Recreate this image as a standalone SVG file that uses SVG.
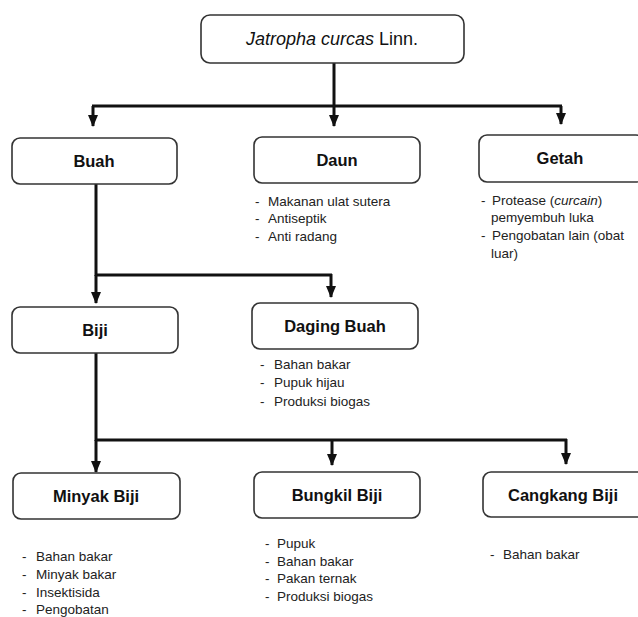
<svg xmlns="http://www.w3.org/2000/svg" width="638" height="617" viewBox="0 0 638 617">
<defs>
<marker id="ah" viewBox="0 0 12 10" refX="11" refY="5" markerWidth="12" markerHeight="10" markerUnits="userSpaceOnUse" orient="auto">
<path d="M0,0 L12,5 L0,10 Z" fill="#111"/>
</marker>
</defs>
<style>
.box{fill:#fff;stroke:#333;stroke-width:1.6}
.lbl{font-family:"Liberation Sans",Arial,sans-serif;font-size:16.5px;font-weight:bold;fill:#111;text-anchor:middle}
.ttl{font-family:"Liberation Sans",Arial,sans-serif;font-size:18px;fill:#111;text-anchor:middle}
.lst{font-family:"Liberation Sans",Arial,sans-serif;font-size:13.5px;fill:#222}
.ln{fill:none;stroke:#111;stroke-width:3}
.ar{fill:none;stroke:#111;stroke-width:3;marker-end:url(#ah)}
</style>
<rect width="638" height="617" fill="#fff"/>
<g id="connectors">
<line class="ln" x1="334" y1="63" x2="334" y2="106"/>
<line class="ln" x1="92" y1="106" x2="562" y2="106"/>
<line class="ar" x1="93" y1="106" x2="93" y2="126"/>
<line class="ar" x1="334" y1="106" x2="334" y2="126"/>
<line class="ar" x1="561" y1="106" x2="561" y2="124"/>
<line class="ln" x1="96" y1="184" x2="96" y2="276"/>
<line class="ln" x1="96" y1="275" x2="332" y2="275"/>
<line class="ar" x1="96" y1="275" x2="96" y2="303"/>
<line class="ar" x1="331" y1="274" x2="331" y2="297"/>
<line class="ln" x1="96" y1="353" x2="96" y2="441"/>
<line class="ln" x1="96" y1="440" x2="567" y2="440"/>
<line class="ar" x1="96" y1="440" x2="96" y2="472"/>
<line class="ar" x1="332" y1="440" x2="332" y2="465"/>
<line class="ar" x1="566" y1="439" x2="566" y2="464"/>
</g>
<g id="jatropha">
<rect class="box" x="201" y="15" width="263" height="48" rx="9"/>
<text class="ttl" x="332" y="45"><tspan font-style="italic">Jatropha curcas</tspan> Linn.</text>
</g>
<g id="buah">
<rect class="box" x="12" y="138" width="165" height="46" rx="8"/>
<text class="lbl" x="94" y="167">Buah</text>
</g>
<g id="daun">
<rect class="box" x="254" y="137" width="166" height="46" rx="8"/>
<text class="lbl" x="337" y="166">Daun</text>
<text class="lst"><tspan x="255" y="206">-</tspan><tspan x="268" y="206">Makanan ulat sutera</tspan></text>
<text class="lst"><tspan x="255" y="223">-</tspan><tspan x="268" y="223">Antiseptik</tspan></text>
<text class="lst"><tspan x="255" y="241">-</tspan><tspan x="268" y="241">Anti radang</tspan></text>
</g>
<g id="getah">
<rect class="box" x="479" y="135" width="165" height="47" rx="8"/>
<text class="lbl" x="560" y="164">Getah</text>
<text class="lst"><tspan x="481" y="205">-</tspan><tspan x="492" y="205">Protease (<tspan font-style="italic">curcain</tspan>)</tspan></text>
<text class="lst" x="491" y="222">pemyembuh luka</text>
<text class="lst"><tspan x="481" y="240">-</tspan><tspan x="492" y="240">Pengobatan lain (obat</tspan></text>
<text class="lst" x="491" y="258">luar)</text>
</g>
<g id="biji">
<rect class="box" x="12" y="307" width="166" height="46" rx="8"/>
<text class="lbl" x="95" y="336">Biji</text>
</g>
<g id="daging-buah">
<rect class="box" x="252" y="303" width="166" height="46" rx="8"/>
<text class="lbl" x="335" y="332">Daging Buah</text>
<text class="lst"><tspan x="260" y="369">-</tspan><tspan x="274" y="369">Bahan bakar</tspan></text>
<text class="lst"><tspan x="260" y="387">-</tspan><tspan x="274" y="387">Pupuk hijau</tspan></text>
<text class="lst"><tspan x="260" y="406">-</tspan><tspan x="274" y="406">Produksi biogas</tspan></text>
</g>
<g id="minyak-biji">
<rect class="box" x="13" y="473" width="167" height="46" rx="8"/>
<text class="lbl" x="96" y="502">Minyak Biji</text>
<text class="lst"><tspan x="22" y="561">-</tspan><tspan x="36" y="561">Bahan bakar</tspan></text>
<text class="lst"><tspan x="22" y="579">-</tspan><tspan x="36" y="579">Minyak bakar</tspan></text>
<text class="lst"><tspan x="22" y="597">-</tspan><tspan x="36" y="597">Insektisida</tspan></text>
<text class="lst"><tspan x="22" y="614">-</tspan><tspan x="36" y="614">Pengobatan</tspan></text>
</g>
<g id="bungkil-biji">
<rect class="box" x="254" y="472" width="166" height="46" rx="8"/>
<text class="lbl" x="337" y="501">Bungkil Biji</text>
<text class="lst"><tspan x="265" y="548">-</tspan><tspan x="277" y="548">Pupuk</tspan></text>
<text class="lst"><tspan x="265" y="566">-</tspan><tspan x="277" y="566">Bahan bakar</tspan></text>
<text class="lst"><tspan x="265" y="583">-</tspan><tspan x="277" y="583">Pakan ternak</tspan></text>
<text class="lst"><tspan x="265" y="601">-</tspan><tspan x="277" y="601">Produksi biogas</tspan></text>
</g>
<g id="cangkang-biji">
<rect class="box" x="483" y="472" width="162" height="45" rx="8"/>
<text class="lbl" x="563" y="501">Cangkang Biji</text>
<text class="lst"><tspan x="490" y="559">-</tspan><tspan x="503" y="559">Bahan bakar</tspan></text>
</g>
</svg>
